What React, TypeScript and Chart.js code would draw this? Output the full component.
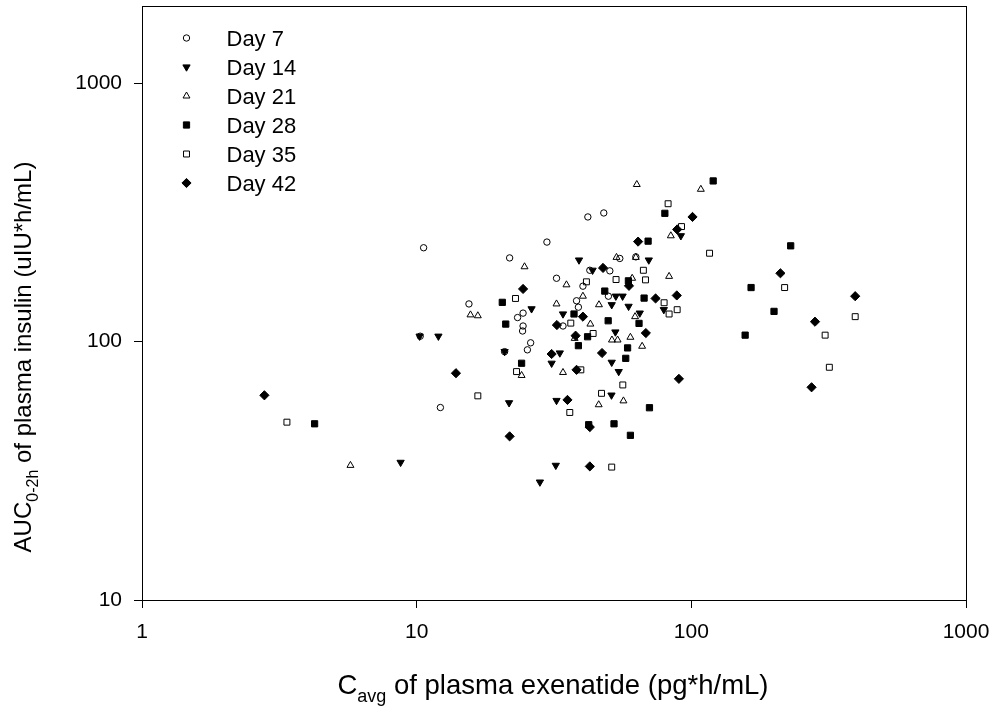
import React, { useEffect, useRef } from 'react';
import { Chart, registerables } from 'chart.js';

Chart.register(...registerables);

// ---- data ----
const seriesLabels = ['Day 7', 'Day 14', 'Day 21', 'Day 28', 'Day 35', 'Day 42'];

const day7X = [10.6, 21.8, 29.8, 42.0, 48.0, 32.3, 15.5, 23.3, 24.4, 24.4, 24.3, 26.0, 25.3, 10.3, 20.9, 12.2, 40.3, 54.9, 62.8, 42.7, 50.5, 38.2, 38.8, 49.9, 34.1];
const day7Y = [231, 211, 243, 304, 315, 176, 140, 124, 129, 115, 110, 99, 93, 105, 91.5, 55.6, 164, 210, 213, 189, 188, 144, 136, 150, 115];

const day14X = [8.74, 10.25, 12.0, 20.9, 21.7, 31.0, 32.3, 32.1, 28.1, 33.2, 26.2, 39.0, 70.0, 43.7, 53.1, 56.2, 51.3, 59.1, 64.9, 79.4, 91.6, 34.1, 52.9, 51.3, 54.4, 51.2];
const day14Y = [34.1, 105, 105, 91.5, 58, 82.5, 59.2, 33.2, 28.6, 90.4, 134, 207, 207, 189, 150, 150, 139, 137, 129, 133, 257, 128, 109, 83.2, 76.6, 62.1];

const day21X = [5.74, 24.7, 15.7, 16.7, 32.3, 24.1, 63.3, 108.3, 53.4, 62.8, 60.9, 83.0, 35.1, 40.3, 46.1, 62.4, 42.9, 37.6, 51.4, 53.9, 60.0, 66.2, 34.1, 46.0, 56.6, 84.2];
const day21Y = [33.2, 195, 127, 126, 140, 74, 406, 389, 212, 212, 176, 179, 166, 150, 139, 125, 117, 103, 101.5, 101.5, 104, 96, 76, 57, 59, 257];

const day28X = [4.25, 20.5, 21.1, 24.1, 120.1, 80.1, 69.6, 48.4, 67.3, 37.4, 49.8, 64.5, 59.0, 41.9, 38.8, 58.6, 57.7, 70.4, 52.3, 60.0, 42.3, 230, 165, 200, 157];
const day28Y = [48.1, 142, 117, 82.5, 419, 314, 245, 157, 147.5, 128, 120.5, 117.7, 172, 104.5, 96.5, 94.6, 86.2, 55.5, 48.1, 43.4, 47.7, 235, 162, 131, 106];

const day35X = [3.37, 22.9, 23.1, 16.7, 82.3, 92.1, 116.5, 66.9, 53.2, 68.1, 41.5, 79.6, 83.0, 88.8, 36.4, 43.9, 39.6, 56.3, 47.1, 36.1, 51.3, 218.6, 395, 307, 318];
const day35Y = [48.8, 147, 76.6, 61.7, 342, 279, 220, 189, 174, 173.5, 170.5, 141.5, 128, 133, 118, 107.6, 77.8, 68, 63.1, 53.2, 32.7, 162, 125, 106, 79.6];

const day42X = [2.79, 13.9, 21.8, 31.0, 32.4, 24.4, 101, 88.8, 64.0, 47.7, 59.3, 74.1, 88.5, 40.3, 37.9, 68.3, 47.3, 38.2, 35.4, 42.7, 42.7, 90.1, 211, 395, 282, 274];
const day42Y = [62, 75.5, 43, 89.6, 116, 160, 304, 272, 244, 193, 164.5, 147, 151, 125, 105.5, 108, 90.4, 77.8, 59.5, 46.7, 32.9, 71.8, 184, 150, 119.5, 66.6];

const xTickValues = [1, 10, 100, 1000];
const yTickValues = [10, 100, 1000];
const xMin = 1;
const xMax = 1000;
const yMin = 10;
const yMax = 2000;

const xTitleMain = 'C';
const xTitleSub = 'avg';
const xTitleRest = ' of plasma exenatide (pg*h/mL)';
const yTitleMain = 'AUC';
const yTitleSub = '0-2h';
const yTitleRest = ' of plasma insulin (uIU*h/mL)';

// ---- styles ----
const FONT = "'Liberation Sans', Arial, Helvetica, sans-serif";
const TICK_SIZE = 21;
const X_TITLE_SIZE = 27.5;
const X_SUB_SIZE = 18;
const Y_TITLE_SIZE = 24;
const Y_SUB_SIZE = 16;
const LEGEND_SIZE = 22;

type MarkerStyle = {
  pointStyle: string;
  radius: number;
  rotation: number;
  filled: boolean;
};

const markerStyles: MarkerStyle[] = [
  { pointStyle: 'circle', radius: 3.2, rotation: 0, filled: false },
  { pointStyle: 'triangle', radius: 4.2, rotation: 180, filled: true },
  { pointStyle: 'triangle', radius: 4.0, rotation: 0, filled: false },
  { pointStyle: 'rect', radius: 4.4, rotation: 0, filled: true },
  { pointStyle: 'rect', radius: 4.2, rotation: 0, filled: false },
  { pointStyle: 'rectRot', radius: 4.6, rotation: 0, filled: true },
];

const seriesX = [day7X, day14X, day21X, day28X, day35X, day42X];
const seriesY = [day7Y, day14Y, day21Y, day28Y, day35Y, day42Y];

function drawMarker(ctx: CanvasRenderingContext2D, m: MarkerStyle, x: number, y: number) {
  const r = m.radius;
  ctx.save();
  ctx.translate(x, y);
  ctx.rotate((m.rotation * Math.PI) / 180);
  ctx.beginPath();
  if (m.pointStyle === 'circle') {
    ctx.arc(0, 0, r, 0, Math.PI * 2);
  } else if (m.pointStyle === 'triangle') {
    const edge = (r * 3) / Math.sqrt(3);
    const h = (edge * Math.sqrt(3)) / 2;
    ctx.moveTo(-edge / 2, h / 3);
    ctx.lineTo(edge / 2, h / 3);
    ctx.lineTo(0, (-2 * h) / 3);
    ctx.closePath();
  } else if (m.pointStyle === 'rect') {
    const s = r * Math.SQRT1_2;
    ctx.rect(-s, -s, 2 * s, 2 * s);
  } else if (m.pointStyle === 'rectRot') {
    ctx.moveTo(0, -r);
    ctx.lineTo(r, 0);
    ctx.lineTo(0, r);
    ctx.lineTo(-r, 0);
    ctx.closePath();
  }
  ctx.lineWidth = 1;
  ctx.strokeStyle = '#000';
  if (m.filled) {
    ctx.fillStyle = '#000';
    ctx.fill();
  }
  ctx.stroke();
  ctx.restore();
}

function drawSubTitle(
  ctx: CanvasRenderingContext2D,
  main: string,
  sub: string,
  rest: string,
  size: number,
  subSize: number,
  subDrop: number
) {
  // draws horizontally, centred at (0, 0) baseline
  const mainF = `${size}px ${FONT}`;
  const subF = `${subSize}px ${FONT}`;
  ctx.font = mainF;
  const w1 = ctx.measureText(main).width;
  const w3 = ctx.measureText(rest).width;
  ctx.font = subF;
  const w2 = ctx.measureText(sub).width;
  let x = -(w1 + w2 + w3) / 2;
  ctx.font = mainF;
  ctx.fillText(main, x, 0);
  x += w1;
  ctx.font = subF;
  ctx.fillText(sub, x, subDrop);
  x += w2;
  ctx.font = mainF;
  ctx.fillText(rest, x, 0);
}

const decorPlugin = {
  id: 'decor',
  afterDraw(chart: any) {
    const ctx: CanvasRenderingContext2D = chart.ctx;
    const a = chart.chartArea;
    ctx.save();
    // frame
    ctx.strokeStyle = '#000';
    ctx.lineWidth = 1;
    ctx.strokeRect(Math.round(a.left) + 0.5, Math.round(a.top) + 0.5, Math.round(a.right - a.left), Math.round(a.bottom - a.top));

    // legend
    const legX = 186.5;
    const legTextX = 226.5;
    const legY0 = 38;
    const legDy = 29;
    ctx.font = `${LEGEND_SIZE}px ${FONT}`;
    ctx.fillStyle = '#000';
    ctx.textAlign = 'left';
    ctx.textBaseline = 'alphabetic';
    seriesLabels.forEach((lab, i) => {
      const cy = legY0 + i * legDy;
      drawMarker(ctx, markerStyles[i], legX, cy);
      ctx.font = `${LEGEND_SIZE}px ${FONT}`;
      ctx.fillText(lab, legTextX, cy + LEGEND_SIZE * 0.36);
    });

    // x title
    ctx.save();
    ctx.translate(553, 694);
    drawSubTitle(ctx, xTitleMain, xTitleSub, xTitleRest, X_TITLE_SIZE, X_SUB_SIZE, 8);
    ctx.restore();

    // y title (rotated)
    ctx.save();
    ctx.translate(31, 357);
    ctx.rotate(-Math.PI / 2);
    drawSubTitle(ctx, yTitleMain, yTitleSub, yTitleRest, Y_TITLE_SIZE, Y_SUB_SIZE, 7);
    ctx.restore();

    ctx.restore();
  },
};

export default function App() {
  const ref = useRef<HTMLCanvasElement | null>(null);

  useEffect(() => {
    if (!ref.current) return;
    const datasets = seriesLabels.map((label, i) => {
      const m = markerStyles[i];
      return {
        label,
        data: seriesX[i].map((xv, j) => ({ x: xv, y: seriesY[i][j] })),
        pointStyle: m.pointStyle,
        pointRadius: m.radius,
        pointRotation: m.rotation,
        pointBorderWidth: 1,
        borderColor: '#000',
        pointBorderColor: '#000',
        backgroundColor: m.filled ? '#000' : 'rgba(255,255,255,0)',
        pointBackgroundColor: m.filled ? '#000' : 'rgba(255,255,255,0)',
        showLine: false,
      };
    });

    const zeroPad = (s: any) => {
      s.paddingTop = 0;
      s.paddingBottom = 0;
      s.paddingLeft = 0;
      s.paddingRight = 0;
    };

    const axisCommon = {
      type: 'logarithmic' as const,
      grid: { drawOnChartArea: false, drawTicks: true, tickLength: 8, color: '#000', lineWidth: 1 },
      border: { display: false },
    };

    const chart = new Chart(ref.current, {
      type: 'scatter',
      data: { datasets: datasets as any },
      options: {
        animation: false,
        responsive: false,
        maintainAspectRatio: false,
        layout: { padding: { top: 4, right: 30, left: 0, bottom: 0 } },
        plugins: { legend: { display: false }, tooltip: { enabled: false } },
        scales: {
          x: {
            ...axisCommon,
            position: 'bottom',
            min: xMin,
            max: xMax,
            afterBuildTicks: (s: any) => {
              s.ticks = xTickValues.map((v) => ({ value: v }));
            },
            afterFit: (s: any) => {
              s.height = 108;
              zeroPad(s);
            },
            ticks: {
              autoSkip: false,
              maxRotation: 0,
              padding: 12,
              color: '#000',
              font: { family: FONT, size: TICK_SIZE },
              callback: (v: any) => String(v),
            },
          },
          y: {
            ...axisCommon,
            position: 'left',
            min: yMin,
            max: yMax,
            afterBuildTicks: (s: any) => {
              s.ticks = yTickValues.map((v) => ({ value: v }));
            },
            afterFit: (s: any) => {
              s.width = 142;
              zeroPad(s);
            },
            ticks: {
              autoSkip: false,
              padding: 12,
              color: '#000',
              font: { family: FONT, size: TICK_SIZE },
              callback: (v: any) => String(v),
            },
          },
        } as any,
      },
      plugins: [decorPlugin],
    });
    return () => chart.destroy();
  }, []);

  return (
    <div style={{ position: 'fixed', left: 0, top: 0, width: 996, height: 708, background: '#fff' }}>
      <canvas ref={ref} width={996} height={708} style={{ width: 996, height: 708, display: 'block' }} />
    </div>
  );
}
